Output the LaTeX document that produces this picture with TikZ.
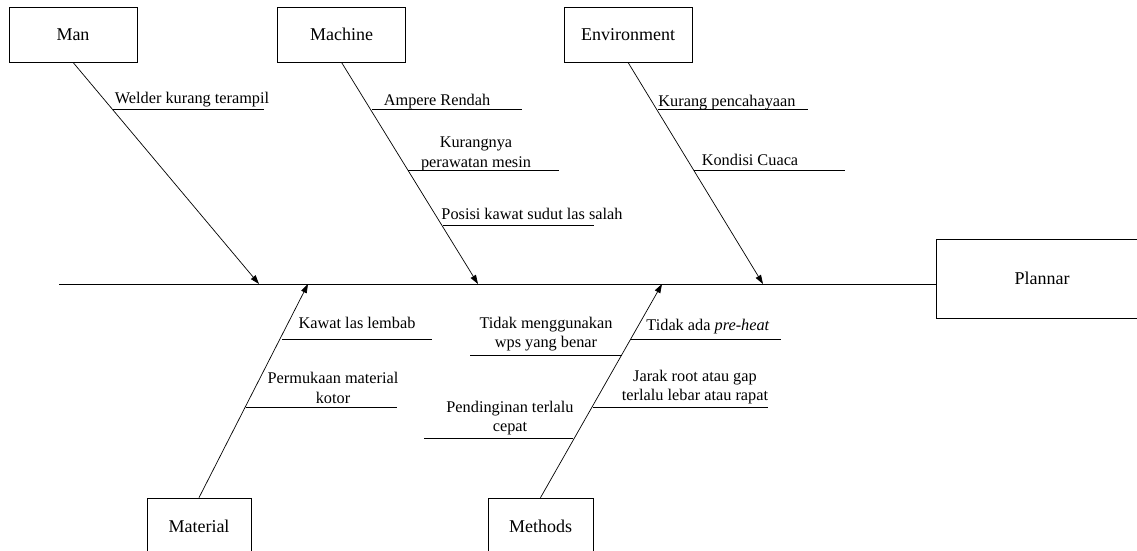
\documentclass[tikz,border=0pt]{standalone}
\usepackage{fontspec}
\setmainfont{Liberation Serif}
\usetikzlibrary{arrows.meta}

\begin{document}
\begin{tikzpicture}[x=1pt, y=-1pt, line width=0.7pt,
  font=\fontsize{16.3}{19.5}\selectfont]
\tikzset{kotak/.style={draw, minimum width=128pt, minimum height=55pt,
    font=\fontsize{18}{21}\selectfont},
  sebab/.style={inner sep=0pt, align=center},
  tulang/.style={-{Triangle[length=9pt, width=6pt]}}}
\useasboundingbox (0,0) rectangle (1137,551);
% kategori
\node[kotak] (Man) at (73,34.5) {Man};
\node[kotak] (Machine) at (341.5,34.5) {Machine};
\node[kotak] (Environment) at (628,34.5) {Environment};
\node[kotak, minimum width=104pt, minimum height=56pt] (Material) at (199,526) {Material};
\node[kotak, minimum width=105pt, minimum height=56pt] (Methods) at (540.5,526) {Methods};
\node[kotak, minimum width=212pt, minimum height=79pt] (Plannar) at (1042,278.5) {Plannar};
% tulang utama
\coordinate (ekor) at (59,284);
\draw (ekor) -- (ekor -| Plannar.west);
\coordinate (tMan) at (259,284);
\coordinate (tMachine) at (478,284);
\coordinate (tEnv) at (763,284);
\coordinate (tMaterial) at (308,284);
\coordinate (tMethods) at (662,284);
\draw[tulang] (Man.south) -- (tMan);
\draw[tulang] (Machine.south) -- (tMachine);
\draw[tulang] (Environment.south) -- (tEnv);
\draw[tulang] (Material.north) -- (tMaterial);
\draw[tulang] (Methods.north) -- (tMethods);
% sebab
\node[sebab] (S1) at (192,100) {Welder kurang terampil};
\node[sebab] (S2) at (437,102) {Ampere Rendah};
\node[sebab] (S3) at (476,154) {Kurangnya\\perawatan mesin};
\node[sebab] (S4) at (532,214) {Posisi kawat sudut las salah};
\node[sebab] (S5) at (727,103) {Kurang pencahayaan};
\node[sebab] (S6) at (750,160) {Kondisi Cuaca};
\node[sebab] (S7) at (357,323) {Kawat las lembab};
\node[sebab] (S8) at (333,388) {Permukaan material\\kotor};
\node[sebab] (S9) at (546,334) {Tidak menggunakan\\wps yang benar};
\node[sebab] (S10) at (708,327) {Tidak ada \textit{pre-heat}};
\node[sebab] (S11) at (695,387) {Jarak root atau gap\\terlalu lebar atau rapat};
\node[sebab] (S12) at (510,418) {Pendinginan terlalu\\cepat};
% garis sebab
\coordinate (g1) at (113,109);
\coordinate (g2) at (372,109);
\coordinate (g3) at (408,170);
\coordinate (g4) at (443,225);
\coordinate (g5) at (658,109);
\coordinate (g6) at (694,170);
\coordinate (g7) at (282,339);
\coordinate (g8) at (246,407);
\coordinate (g9) at (622,355);
\coordinate (g10) at (630,339);
\coordinate (g11) at (593,407);
\coordinate (g12) at (573,438);
\draw (g1) -- ++(151,0);
\draw (g2) -- ++(150,0);
\draw (g3) -- ++(151,0);
\draw (g4) -- ++(151,0);
\draw (g5) -- ++(150,0);
\draw (g6) -- ++(151,0);
\draw (g7) -- ++(150,0);
\draw (g8) -- ++(151,0);
\draw (g9) -- ++(-152,0);
\draw (g10) -- ++(151,0);
\draw (g11) -- ++(175,0);
\draw (g12) -- ++(-149,0);
\end{tikzpicture}
\end{document}
